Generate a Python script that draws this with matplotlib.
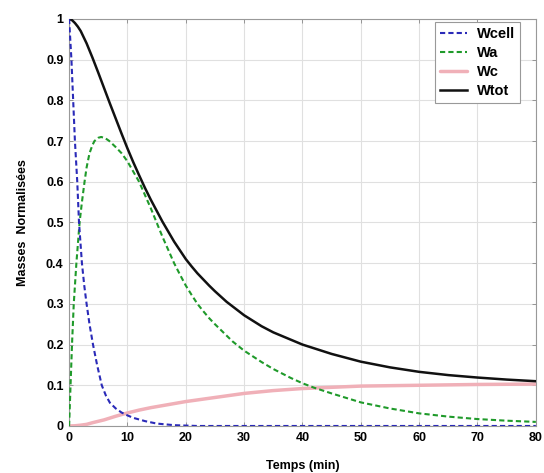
import matplotlib
matplotlib.use("Agg")
import matplotlib.pyplot as plt

# --- data ---
t_cell = [0, 0.2, 0.4, 0.7, 1.0, 1.4, 1.7, 2.2, 2.6, 3.0, 3.5, 4.1, 4.8, 5.6, 6.3, 7, 8, 9, 10, 11, 13, 15, 18, 22, 30, 40, 50, 60, 70, 80]
w_cell = [1.0, 0.95, 0.9, 0.8, 0.7, 0.6, 0.5, 0.4, 0.345, 0.3, 0.25, 0.2, 0.15, 0.1, 0.075, 0.057, 0.043, 0.033, 0.026, 0.02, 0.012, 0.006, 0.002, 0.0, 0.0, 0.0, 0.0, 0.0, 0.0, 0.0]

t_a = [0, 0.1, 0.25, 0.5, 0.8, 1.25, 1.8, 2.2, 2.65, 3.0, 3.5, 4.0, 4.35, 5.0, 5.5, 6.2, 6.9, 8, 9, 10, 12, 14, 16, 18, 19, 20, 21, 22, 23, 24, 25, 26, 28, 30, 33, 35, 38, 40, 42, 45, 50, 55, 60, 65, 70, 75, 80]
w_a = [0.0, 0.04, 0.1, 0.2, 0.3, 0.4, 0.5, 0.55, 0.6, 0.635, 0.67, 0.69, 0.70, 0.708, 0.71, 0.707, 0.70, 0.685, 0.67, 0.65, 0.6, 0.535, 0.465, 0.40, 0.372, 0.345, 0.322, 0.30, 0.282, 0.265, 0.25, 0.236, 0.208, 0.185, 0.157, 0.14, 0.118, 0.105, 0.094, 0.08, 0.058, 0.043, 0.031, 0.023, 0.017, 0.013, 0.01]

t_c = [0, 1, 2, 3, 4, 6, 8, 10, 12, 14, 16, 18, 20, 25, 30, 35, 40, 45, 50, 60, 70, 80]
w_c = [0.0, 0.0005, 0.002, 0.004, 0.008, 0.015, 0.024, 0.032, 0.039, 0.045, 0.05, 0.055, 0.06, 0.07, 0.08, 0.087, 0.092, 0.095, 0.098, 0.1, 0.102, 0.103]

t_tot = [0, 0.5, 1, 1.5, 2, 3, 4, 5, 6, 7, 8, 9, 10, 11, 12, 13, 14, 16, 18, 20, 21, 22, 23, 24, 25, 27, 30, 33, 35, 38, 40, 45, 50, 55, 60, 65, 70, 75, 80]
w_tot = [1.0, 0.997, 0.99, 0.981, 0.97, 0.94, 0.905, 0.868, 0.83, 0.792, 0.755, 0.718, 0.682, 0.648, 0.616, 0.585, 0.556, 0.502, 0.453, 0.41, 0.392, 0.375, 0.36, 0.345, 0.331, 0.305, 0.272, 0.245, 0.23, 0.212, 0.2, 0.177, 0.158, 0.144, 0.133, 0.125, 0.119, 0.114, 0.11]

series_names = ["Wcell", "Wa", "Wc", "Wtot"]
x_ticks = [0, 10, 20, 30, 40, 50, 60, 70, 80]
y_ticks = [0, 0.1, 0.2, 0.3, 0.4, 0.5, 0.6, 0.7, 0.8, 0.9, 1]
y_tick_labels = ["0", "0.1", "0.2", "0.3", "0.4", "0.5", "0.6", "0.7", "0.8", "0.9", "1"]

plt.rcParams['font.family'] = ['Liberation Sans', 'DejaVu Sans']

fig = plt.figure(figsize=(5.44, 4.73), dpi=100)
ax = fig.add_axes([0.127, 0.0994, 0.858, 0.8606])

ax.plot(t_c, w_c, color='#f0b0b8', lw=2.5, solid_capstyle='round', label=series_names[2], zorder=3)
ax.plot(t_tot, w_tot, color='#111111', lw=1.8, label=series_names[3], zorder=4)
ax.plot(t_a, w_a, color='#1f9a2a', lw=1.5, ls=(0, (2.5, 1.5)), label=series_names[1], zorder=5)
ax.plot(t_cell, w_cell, color='#2a2ab8', lw=1.5, ls=(0, (2.5, 1.5)), label=series_names[0], zorder=6)

ax.set_xlim(0, 80)
ax.set_ylim(0, 1)
ax.set_xticks(x_ticks)
ax.set_xticklabels([str(v) for v in x_ticks], fontsize=9, fontweight='bold')
ax.set_yticks(y_ticks)
ax.set_yticklabels(y_tick_labels, fontsize=9, fontweight='bold')
ax.tick_params(direction='in', length=3, width=0.6, color='#888888', top=True, right=True, pad=4)
ax.grid(True, color='#e0e0e0', lw=0.8)
ax.set_axisbelow(True)
for s in ax.spines.values():
    s.set_color('#999999')
    s.set_linewidth(0.8)

ax.set_xlabel("Temps (min)", fontsize=9, fontweight='bold', labelpad=12)
ax.set_ylabel("Masses  Normalisées", fontsize=9, fontweight='bold', labelpad=12)

handles, labels = ax.get_legend_handles_labels()
order = [3, 2, 0, 1]
leg = ax.legend([handles[i] for i in order], [labels[i] for i in order],
                loc='upper right', bbox_to_anchor=(0.966, 0.993), borderaxespad=0.0,
                fancybox=False, framealpha=1, edgecolor='#999999',
                prop={'weight': 'bold', 'size': 10.5}, handlelength=1.8,
                labelspacing=0.35, borderpad=0.35, handletextpad=0.7)
leg.get_frame().set_linewidth(0.8)

fig.savefig("out.png", dpi=100)
